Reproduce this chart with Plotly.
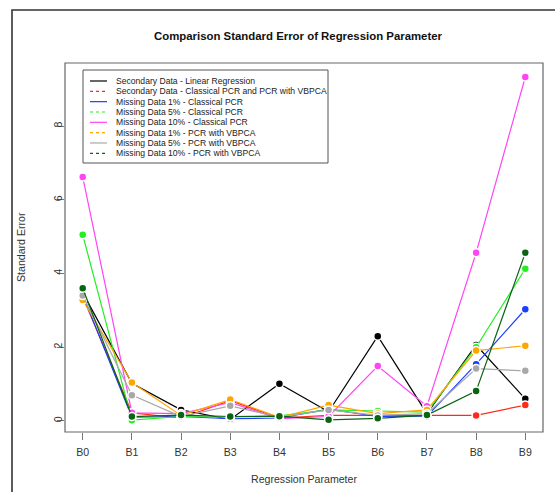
import plotly.graph_objects as go

# Regression parameters on the x axis
params = ["B0", "B1", "B2", "B3", "B4", "B5", "B6", "B7", "B8", "B9"]

# Standard errors per method
se_linear_reg = [3.48, 1.02, 0.30, 0.04, 1.01, 0.25, 2.30, 0.20, 2.06, 0.60]
se_secondary_pcr = [3.37, 0.22, 0.08, 0.55, 0.08, 0.15, 0.15, 0.15, 0.15, 0.43]
se_md1_pcr = [3.42, 0.10, 0.12, 0.06, 0.08, 0.32, 0.12, 0.13, 1.54, 3.03]
se_md5_pcr = [5.05, 0.02, 0.12, 0.10, 0.14, 0.30, 0.27, 0.24, 2.00, 4.13]
se_md10_pcr = [6.62, 0.22, 0.20, 0.50, 0.06, 0.12, 1.49, 0.40, 4.56, 9.33]
se_md1_vbpca = [3.28, 1.04, 0.15, 0.58, 0.10, 0.43, 0.20, 0.30, 1.91, 2.04]
se_md5_vbpca = [3.40, 0.70, 0.12, 0.41, 0.10, 0.30, 0.15, 0.20, 1.42, 1.36]
se_md10_vbpca = [3.60, 0.12, 0.16, 0.12, 0.13, 0.03, 0.07, 0.16, 0.81, 4.56]

series_names = [
    "Secondary Data - Linear Regression",
    "Secondary Data - Classical PCR and PCR with VBPCA",
    "Missing Data 1% - Classical PCR",
    "Missing Data 5% - Classical PCR",
    "Missing Data 10% - Classical PCR",
    "Missing Data 1% - PCR with VBPCA",
    "Missing Data 5% - PCR with VBPCA",
    "Missing Data 10% - PCR with VBPCA",
]
series_values = [se_linear_reg, se_secondary_pcr, se_md1_pcr, se_md5_pcr,
                 se_md10_pcr, se_md1_vbpca, se_md5_vbpca, se_md10_vbpca]
series_colors = ["#000000", "#FF2A1A", "#1A3FFF", "#22EE22",
                 "#FF44F4", "#FFA500", "#A8A8A8", "#0B6414"]
legend_dash = ["solid", "dash", "solid", "dash", "solid", "dash", "solid", "dash"]

y_ticks = [0, 2, 4, 6, 8]

FONT = "Liberation Sans, Arial, sans-serif"
W, H = 555, 492
L, R, T, B = 65, 12, 63, 60
PW, PH = W - L - R, H - T - B


def px_x(x):
    return (x - L) / PW


def px_y(y):
    return (H - B - y) / PH


x_idx = list(range(len(params)))

fig = go.Figure()
for name, vals, col in zip(series_names, series_values, series_colors):
    fig.add_trace(go.Scatter(
        x=x_idx, y=vals, name=name, mode="lines+markers",
        line=dict(color=col, width=1.2),
        marker=dict(color=col, size=8, line=dict(color="white", width=1.5)),
        showlegend=False,
    ))

shapes = []
annotations = []

# plot box
shapes.append(dict(type="rect", xref="paper", yref="paper", x0=0, x1=1, y0=0, y1=1,
                   line=dict(color="#666666", width=1.2), layer="above"))
# outer frame
shapes.append(dict(type="rect", xref="paper", yref="paper",
                   x0=px_x(12), x1=px_x(W + 3), y0=px_y(H + 3), y1=px_y(10),
                   line=dict(color="#333333", width=1.6)))

# legend box and entries
shapes.append(dict(type="rect", xref="paper", yref="paper",
                   x0=px_x(83), x1=px_x(328), y0=px_y(163), y1=px_y(70),
                   line=dict(color="#555555", width=1), fillcolor="white", layer="above"))
row0, row_step = 81.0, 10.33
for i, (name, col, dash) in enumerate(zip(series_names, series_colors, legend_dash)):
    yy = px_y(row0 + i * row_step)
    shapes.append(dict(type="line", xref="paper", yref="paper",
                       x0=px_x(90), x1=px_x(107), y0=yy, y1=yy,
                       line=dict(color=col, width=1.2,
                                 dash="3px,3px" if dash == "dash" else "solid"),
                       layer="above"))
    annotations.append(dict(text=name, xref="paper", yref="paper",
                            x=px_x(114), y=yy, xanchor="left", yanchor="middle",
                            showarrow=False, font=dict(family=FONT, size=8.6, color="#222222")))

# title and axis titles
annotations.append(dict(text="<b>Comparison Standard Error of Regression Parameter</b>",
                        xref="paper", yref="paper", x=px_x(298), y=px_y(36),
                        xanchor="center", yanchor="middle", showarrow=False,
                        font=dict(family=FONT, size=11.4, color="#111111")))
annotations.append(dict(text="Regression Parameter", xref="paper", yref="paper",
                        x=px_x(304), y=px_y(479), xanchor="center", yanchor="middle",
                        showarrow=False, font=dict(family=FONT, size=10.6, color="#333333")))
annotations.append(dict(text="Standard Error", xref="paper", yref="paper",
                        x=px_x(21), y=px_y(247), xanchor="center", yanchor="middle",
                        textangle=-90, showarrow=False,
                        font=dict(family=FONT, size=10.6, color="#333333")))

fig.update_layout(
    width=W, height=H,
    margin=dict(l=L, r=R, t=T, b=B),
    paper_bgcolor="white", plot_bgcolor="white",
    shapes=shapes, annotations=annotations,
    showlegend=False,
    xaxis=dict(range=[-0.36, 9.36], tickmode="array", tickvals=x_idx, ticktext=params,
               showgrid=False, zeroline=False, showline=False,
               ticks="outside", ticklen=7, tickcolor="#777777", tickwidth=1,
               ticklabelstandoff=3,
               tickfont=dict(family=FONT, size=10.6, color="#333333")),
    yaxis=dict(range=[-0.30, 9.71], tickmode="array", tickvals=y_ticks,
               ticktext=[str(v) for v in y_ticks], tickangle=-90,
               showgrid=False, zeroline=False, showline=False,
               ticks="outside", ticklen=7, tickcolor="#777777", tickwidth=1,
               ticklabelstandoff=-9,
               tickfont=dict(family=FONT, size=10.6, color="#333333")),
)

fig.write_html("out.html")
